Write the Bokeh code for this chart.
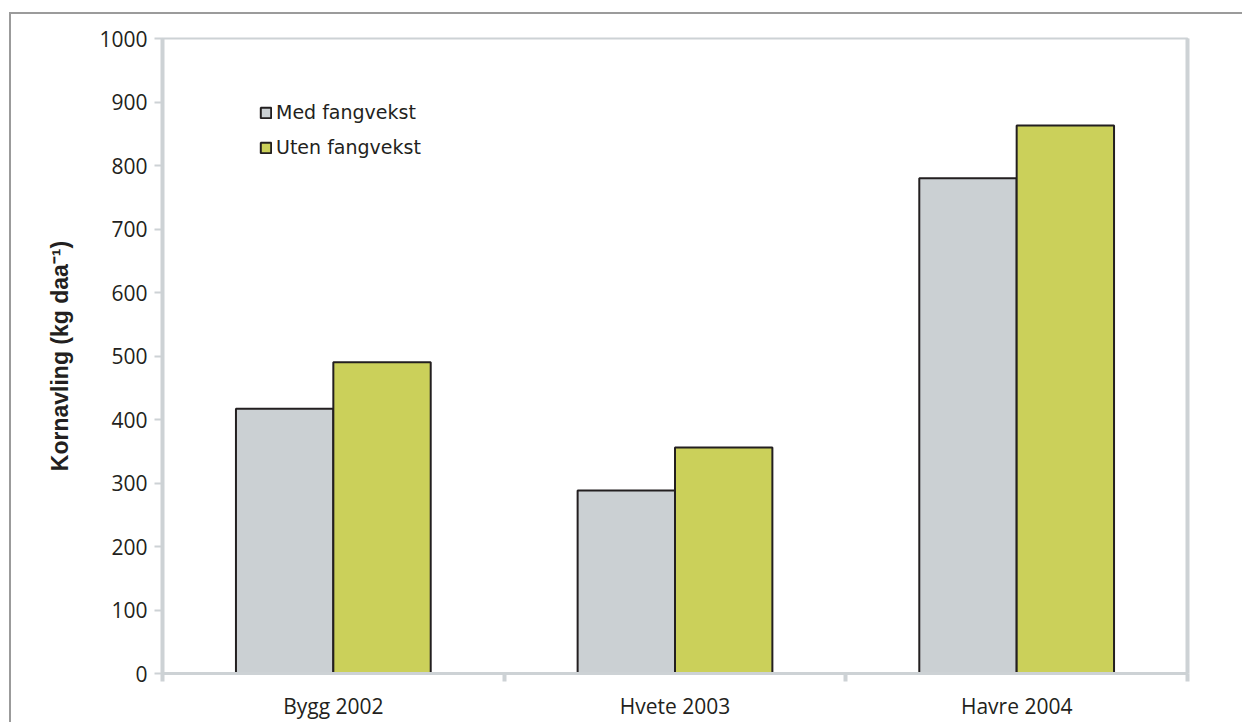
from bokeh.plotting import figure
from bokeh.models import FixedTicker, LinearAxis, Legend, LegendItem, Range1d
from bokeh.embed import file_html
from bokeh.resources import INLINE

categories = ["Bygg 2002", "Hvete 2003", "Havre 2004"]
series_names = ["Med fangvekst", "Uten fangvekst"]
med_fangvekst = [417, 288, 780]
uten_fangvekst = [490, 356, 863]
y_ticks = [0, 100, 200, 300, 400, 500, 600, 700, 800, 900, 1000]

AXIS_COL = "#cdd2d5"
TEXT_COL = "#231f20"
BAR_W = 0.285

p = figure(frame_width=1025, frame_height=635,
           x_range=Range1d(0, len(categories)), y_range=Range1d(0, 1000),
           output_backend="svg", toolbar_location=None,
           min_border_left=151, min_border_top=24, min_border_right=60,
           min_border_bottom=40)
p.margin = (12, 0, 0, 9)
p.styles = {"border-top": "2px solid #9b9b9b", "border-left": "2px solid #9b9b9b"}

x_med = [i + 0.5 - BAR_W / 2 for i in range(len(categories))]
x_uten = [i + 0.5 + BAR_W / 2 for i in range(len(categories))]

r1 = p.vbar(x=x_med, top=med_fangvekst, width=BAR_W, bottom=0,
            fill_color="#cbd0d3", line_color=TEXT_COL, line_width=2)
r2 = p.vbar(x=x_uten, top=uten_fangvekst, width=BAR_W, bottom=0,
            fill_color="#cbd05a", line_color=TEXT_COL, line_width=2)

p.xgrid.visible = False
p.ygrid.visible = False
p.outline_line_color = AXIS_COL
p.outline_line_width = 2

# y axis
ya = p.yaxis[0]
ya.ticker = FixedTicker(ticks=y_ticks)
ya.axis_line_color = AXIS_COL
ya.axis_line_width = 4
ya.major_tick_line_color = AXIS_COL
ya.major_tick_line_width = 2
ya.major_tick_out = 8
ya.major_tick_in = 0
ya.minor_tick_out = 0
ya.minor_tick_in = 0
ya.major_label_text_font = "Open Sans"
ya.major_label_text_font_size = "21px"
ya.major_label_text_color = TEXT_COL
ya.major_label_standoff = 7
ya.axis_label = "Kornavling (kg daa\u207b\u00b9)"
ya.axis_label_text_font = "Liberation Sans"
ya.axis_label_text_font_style = "bold"
ya.axis_label_text_font_size = "23px"
ya.axis_label_text_color = TEXT_COL
ya.axis_label_standoff = 23

# x axis
xa = p.xaxis[0]
xa.ticker = FixedTicker(ticks=[i + 0.5 for i in range(len(categories))],
                        minor_ticks=list(range(len(categories) + 1)))
xa.major_label_overrides = {i + 0.5: c for i, c in enumerate(categories)}
xa.axis_line_color = AXIS_COL
xa.axis_line_width = 3
xa.major_tick_out = 0
xa.major_tick_in = 0
xa.minor_tick_out = 8
xa.minor_tick_in = 0
xa.minor_tick_line_color = AXIS_COL
xa.minor_tick_line_width = 4
xa.major_label_text_font = "Open Sans"
xa.major_label_text_font_size = "21px"
xa.major_label_text_color = TEXT_COL
xa.major_label_standoff = 10

# right frame line
ra = LinearAxis(ticker=FixedTicker(ticks=[]), axis_line_color=AXIS_COL,
                axis_line_width=4, major_label_text_font_size="0px",
                major_tick_out=0, minor_tick_out=0)
p.add_layout(ra, "right")

legend = Legend(items=[LegendItem(label=series_names[0], renderers=[r1]),
                       LegendItem(label=series_names[1], renderers=[r2])],
                location=(97, 515), orientation="vertical")
legend.background_fill_alpha = 0
legend.border_line_alpha = 0
legend.padding = 0
legend.margin = 0
legend.glyph_width = 13
legend.glyph_height = 13
legend.label_standoff = 4
legend.spacing = 13
legend.label_height = 20
legend.label_text_font = "DejaVu Sans"
legend.label_text_font_size = "19px"
legend.label_text_color = TEXT_COL
p.add_layout(legend, "center")

open("out.html", "w").write(file_html(p, INLINE))
